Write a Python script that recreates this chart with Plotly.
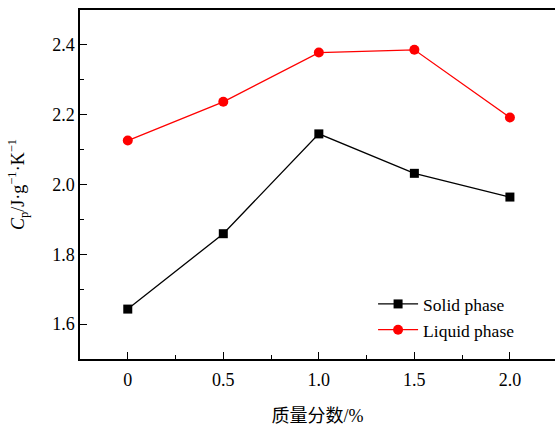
import plotly.graph_objects as go

mass_fraction = [0, 0.5, 1.0, 1.5, 2.0]
solid_cp = [1.643, 1.859, 2.145, 2.032, 1.964]
liquid_cp = [2.126, 2.237, 2.378, 2.386, 2.192]
x_ticks = [0, 0.5, 1.0, 1.5, 2.0]
x_tick_labels = ["0", "0.5", "1.0", "1.5", "2.0"]
y_ticks = [1.6, 1.8, 2.0, 2.2, 2.4]
y_tick_labels = ["1.6", "1.8", "2.0", "2.2", "2.4"]

SERIF = "Liberation Serif, Times New Roman, serif"

fig = go.Figure()
fig.add_trace(go.Scatter(
    x=mass_fraction, y=solid_cp, name="Solid phase", mode="lines+markers",
    line=dict(color="black", width=1.3),
    marker=dict(symbol="square", size=9, color="black"),
))
fig.add_trace(go.Scatter(
    x=mass_fraction, y=liquid_cp, name="Liquid phase", mode="lines+markers",
    line=dict(color="#ff0000", width=1.3),
    marker=dict(symbol="circle", size=10, color="#ff0000"),
))

fig.update_layout(
    width=555, height=426,
    margin=dict(l=80, r=0, t=10, b=65),
    paper_bgcolor="white", plot_bgcolor="white",
    font=dict(family=SERIF, size=18, color="black"),
    showlegend=True,
    legend=dict(
        x=0.617, y=0.209, xanchor="left", yanchor="top",
        bgcolor="rgba(0,0,0,0)", font=dict(family=SERIF, size=17.5),
        tracegroupgap=0, itemwidth=40,
    ),
)
fig.update_xaxes(
    range=[-0.25, 2.236],
    tickvals=x_ticks, ticktext=x_tick_labels,
    ticks="inside", ticklen=7, tickwidth=1.2, tickcolor="black",
    minor=dict(dtick=0.25, ticks="inside", ticklen=4, tickwidth=1.2, tickcolor="black"),
    showline=True, linecolor="black", linewidth=1.5, mirror=True,
    showgrid=False, zeroline=False,
    tickfont=dict(family=SERIF, size=18),
    ticklabelstandoff=4,
    title=dict(text="质量分数/%", font=dict(family="Liberation Serif, Noto Sans CJK SC", size=18), standoff=23),
)
fig.update_yaxes(
    range=[1.5, 2.5],
    tickvals=y_ticks, ticktext=y_tick_labels,
    ticks="inside", ticklen=7, tickwidth=1.2, tickcolor="black",
    minor=dict(dtick=0.1, ticks="inside", ticklen=4, tickwidth=1.2, tickcolor="black"),
    showline=True, linecolor="black", linewidth=1.5, mirror=False,
    showgrid=False, zeroline=False,
    tickfont=dict(family=SERIF, size=18),
    title=dict(text="<i>C</i><sub>p</sub>/J·g<sup>−1</sup>·K<sup>−1</sup>",
               font=dict(family=SERIF, size=18), standoff=23),
)

fig.write_html("out.html", config={"displayModeBar": False},
               post_script="document.body.style.margin='0';")
